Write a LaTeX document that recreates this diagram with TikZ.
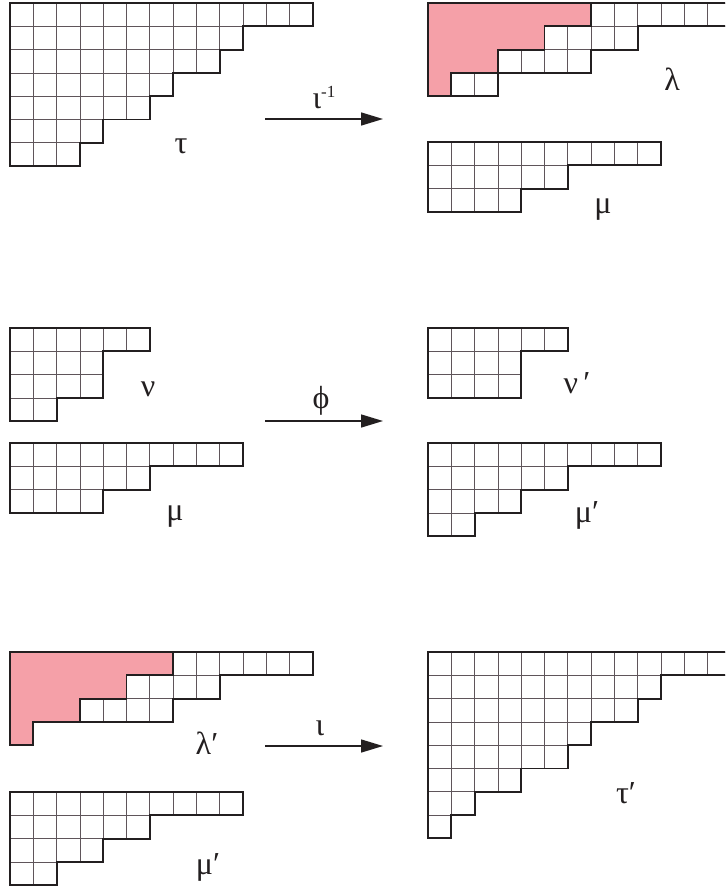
\documentclass[tikz,border=0pt]{standalone}
\usepackage{fontspec}
\setmainfont{Liberation Serif}
\usetikzlibrary{arrows.meta}
\definecolor{pinkfill}{RGB}{245,160,168}
\definecolor{ink}{RGB}{35,31,32}
\definecolor{gridc}{RGB}{95,85,90}
\tikzset{
  gridline/.style={draw=gridc,line width=0.7pt},
  outline/.style={draw=ink,line width=1.9pt,line join=miter},
  pinkline/.style={draw=ink,line width=1.9pt,line join=miter},
  lbl/.style={inner sep=0pt,font=\fontsize{32}{38}\selectfont,text=ink},
  maparrow/.style={draw=ink,line width=1.5pt,-{Triangle[length=22pt,width=13pt]}},
}
\newcommand{\ydgrid}[2]{%
  \begin{scope}[shift={#1},x=23.3pt,y=-23.3pt]
    \foreach \r [count=\i] in {#2} {
      \foreach \j in {1,...,\r} {
        \draw[gridline] (\j-1,\i-1) rectangle (\j,\i);
      }
    }
  \end{scope}}
\newcommand{\ydoutline}[3]{%
  \begin{scope}[shift={#1},x=23.3pt,y=-23.3pt]
    \draw[outline] (0,0) \foreach \r [count=\i] in {#2} { -- (\r,\i-1) -- (\r,\i) } -- (0,#3) -- cycle;
  \end{scope}}
\newcommand{\ydpink}[1]{%
  \begin{scope}[shift={#1},x=23.3pt,y=-23.3pt]
    \fill[pinkfill] (0,0) -- (7,0) -- (7,1) -- (5,1) -- (5,2) -- (3,2) -- (3,3) -- (1,3) -- (1,4) -- (0,4) -- cycle;
    \draw[pinkline] (7,0) -- (7,1) -- (5,1) -- (5,2) -- (3,2) -- (3,3) -- (1,3) -- (1,4);
  \end{scope}}
\begin{document}
\begin{tikzpicture}[x=1pt,y=-1pt]
\clip (0,0) rectangle (725,888);
\fill[white] (0,0) rectangle (725,888);
% ---- top row ----
\ydgrid{(10,3)}{13,10,9,7,6,4,3}
\ydoutline{(10,3)}{13,10,9,7,6,4,3}{7}
\ydgrid{(428,3)}{13,9,7,3}
\ydpink{(428,3)}
\ydoutline{(428,3)}{13,9,7,3}{4}
\ydgrid{(428,142)}{10,6,4}
\ydoutline{(428,142)}{10,6,4}{3}
\node[lbl] (tau) at (181,146) {τ};
\node[lbl] (lambda) at (672,79) {λ};
\node[lbl] (mu1) at (603,210) {μ};
\coordinate (a1s) at (265,119);
\coordinate (a1e) at (383,119);
\draw[maparrow] (a1s) -- (a1e);
\node[lbl] (iinv) at (324,98) {ι\raisebox{0.75ex}{\fontsize{17}{20}\selectfont -1}};
% ---- middle row ----
\ydgrid{(10,328)}{6,4,4,2}
\ydoutline{(10,328)}{6,4,4,2}{4}
\ydgrid{(10,443)}{10,6,4}
\ydoutline{(10,443)}{10,6,4}{3}
\ydgrid{(428,328)}{6,4,4}
\ydoutline{(428,328)}{6,4,4}{3}
\ydgrid{(428,443)}{10,6,4,2}
\ydoutline{(428,443)}{10,6,4,2}{4}
\node[lbl] (nu) at (148,389) {ν};
\node[lbl] (mu2) at (175,517) {μ};
\node[lbl] (nup) at (577,383) {ν\,′};
\node[lbl] (mup) at (587,515) {μ′};
\coordinate (a2s) at (265,421);
\coordinate (a2e) at (383,421);
\draw[maparrow] (a2s) -- (a2e);
\node[lbl] (phi) at (321,401) {ϕ};
% ---- bottom row ----
\ydgrid{(10,652)}{13,9,7,1}
\ydpink{(10,652)}
\ydoutline{(10,652)}{13,9,7,1}{4}
\ydgrid{(10,792)}{10,6,4,2}
\ydoutline{(10,792)}{10,6,4,2}{4}
\ydgrid{(428,652)}{13,10,9,7,6,4,2,1}
\ydoutline{(428,652)}{13,10,9,7,6,4,2,1}{8}
\node[lbl] (lambdap) at (207,743) {λ′};
\node[lbl] (mup2) at (208,867) {μ′};
\node[lbl] (taup) at (626,793) {τ′};
\coordinate (a3s) at (265,746);
\coordinate (a3e) at (383,746);
\draw[maparrow] (a3s) -- (a3e);
\node[lbl] (iota) at (320,728) {ι};
\end{tikzpicture}
\end{document}
